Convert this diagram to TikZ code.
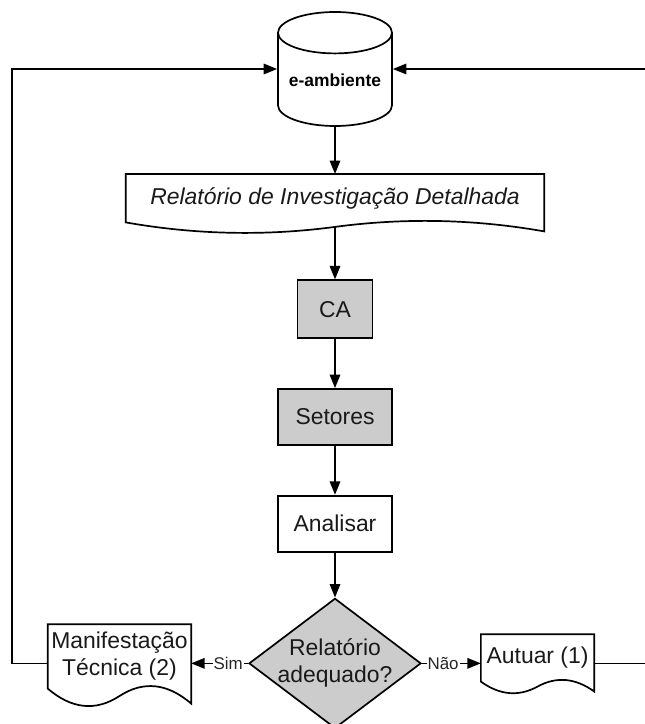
\documentclass[tikz,border=0pt]{standalone}
\usepackage{fontspec}
\setmainfont{Liberation Sans}
\usetikzlibrary{arrows.meta, positioning, shapes.geometric}
\definecolor{boxgray}{HTML}{CCCCCC}

\begin{document}
\begin{tikzpicture}[x=1bp, y=-1bp,
    txt/.style={font=\fontsize{23}{27}\selectfont, text=black!90, align=center},
    box/.style={txt, draw, line width=1.7bp, inner sep=0pt},
    grey/.style={box, fill=boxgray},
    docbox/.style={txt, inner sep=0pt},
    db/.style={cylinder, shape border rotate=90, aspect=0.45, draw,
               line width=1.7bp, minimum width=114bp, minimum height=114bp,
               inner sep=0pt, font=\fontsize{17.5}{20}\selectfont\bfseries},
    decision/.style={txt, diamond, aspect=1.32, draw, fill=boxgray, line width=1.7bp,
                     inner sep=-6bp, minimum width=172bp, minimum height=130bp},
    lbl/.style={font=\fontsize{17}{18}\selectfont, text=black!85,
                fill=white, inner sep=1bp},
    line/.style={line width=1.7bp},
    arr/.style={line, -{Triangle[length=13.5bp, width=10.5bp]}},
    node distance=49bp]
  \useasboundingbox (0,0) rectangle (645,724);

  \node[db, anchor=shape center] (eamb) at (335,69) {e-ambiente};
  \node[docbox, minimum width=418bp, minimum height=48bp, below=105bp of eamb.shape center] (rel)
    {\itshape Relatório de Investigação Detalhada};
  \node[grey, minimum width=75bp, minimum height=58bp, below=57bp of rel] (ca) {CA};
  \node[grey, minimum width=114bp, minimum height=56bp, below=of ca] (set) {Setores};
  \node[box, minimum width=114bp, minimum height=56bp, below=of set] (ana) {Analisar};
  \node[decision, below=45bp of ana] (dia) {Relatório\\adequado?};
  \node[docbox, minimum width=143bp, minimum height=64bp, left=57bp of dia, yshift=7bp] (man)
    {Manifestação\\Técnica (2)};
  \node[docbox, minimum width=113bp, minimum height=47bp, right=59bp of dia, yshift=5.5bp] (aut)
    {Autuar (1)};
  \coordinate (lft) at (12,69);
  \coordinate (rgt) at (652,69);

  % document outlines with the wavy bottom
  \foreach \nm/\ww/\dd in {rel/418/9, man/143/15, aut/113/10}
    \draw[line] (\nm.south west) -- (\nm.north west) -- (\nm.north east)
      -- ([yshift=-\dd*1bp]\nm.south east)
      .. controls +(-\ww/6,-1.367*\dd) and +(\ww/6,-1.033*\dd) .. ([yshift=-\dd*0.5bp]\nm.south)
      .. controls +(-\ww/6,1.033*\dd) and +(\ww/6,1.367*\dd) .. (\nm.south west) -- cycle;

  \draw[arr] (eamb.south) -- (eamb.south |- rel.north);
  \draw[arr] ([yshift=-4.5bp]rel.south) -- (ca);
  \draw[arr] (ca) -- (set);
  \draw[arr] (set) -- (ana);
  \draw[arr] (ana) -- (dia);
  \draw[arr] (dia.west) -- (dia.west -| man.east) node[lbl, pos=0.35] (sim) {Sim};
  \draw[arr] (dia.east) -- (dia.east -| aut.west) node[lbl, pos=0.36] (nao) {Não};
  \draw[arr] (man.west |- dia) -| (lft) -- (lft -| eamb.west);
  \draw[arr] (aut.east |- dia) -| (rgt) -- (rgt -| eamb.east);
\end{tikzpicture}
\end{document}
